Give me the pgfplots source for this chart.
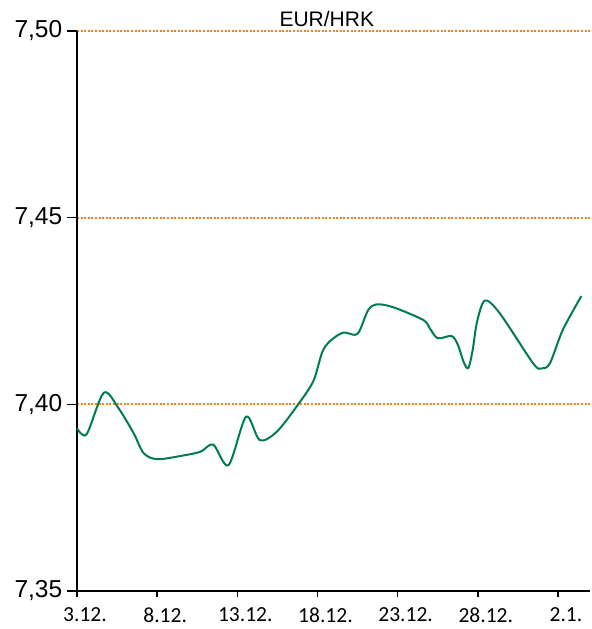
\documentclass[border=0pt]{standalone}
\usepackage{pgfplots}
\pgfplotsset{compat=1.18}
\usepackage{fontspec}
\setmainfont{Liberation Sans}
\newfontfamily\carlito{Carlito}
\definecolor{hrkgreen}{RGB}{0,125,78}
\definecolor{gridorange}{RGB}{250,125,30}
\begin{document}
\begin{tikzpicture}
\useasboundingbox (-77bp,-38bp) rectangle (515bp,591bp);
\begin{axis}[
  scale only axis,
  width=513bp, height=560bp,
  xmin=0, xmax=32,
  ymin=7.35, ymax=7.50,
  axis x line=bottom, axis y line=left,
  axis line style={-, line width=1.5bp, black},
  xtick={0,5,10,15,20,25,30},
  xticklabels={3.12.,8.12.,13.12.,18.12.,23.12.,28.12.,2.1.},
  ytick={7.35,7.40,7.45,7.50},
  yticklabels={{7,35},{7,40},{7,45},{7,50}},
  tick align=outside,
  xtick style={black, line width=1.5bp, /pgfplots/major tick length=6bp},
  ytick style={black, line width=1.5bp, /pgfplots/major tick length=10bp},
  xticklabel style={font=\carlito\fontsize{21.5bp}{24bp}\selectfont, xshift=8bp, yshift=-9bp},
  yticklabel style={font=\fontsize{24.5bp}{28bp}\selectfont, xshift=-7bp},
  /pgf/number format/assume math mode=true,
  ymajorgrids,
  grid style={gridorange, line width=2bp, dash pattern=on 2bp off 1.6bp},
  clip=false,
]
\addplot[hrkgreen, line width=2bp, smooth, tension=0.5] coordinates {
(0,7.3936) (0.6,7.3920) (1.67,7.4031) (2.6,7.3989) (3.54,7.3922) (4.16,7.3869)
(5,7.3853) (6.5,7.3862) (7.7,7.3873) (8.5,7.3892) (9.45,7.3837) (10.55,7.3967)
(11.4,7.3904) (12.47,7.3927) (13.85,7.4003) (14.75,7.4063) (15.3,7.4140)
(15.8,7.4170) (16.6,7.4192) (17.34,7.4186) (17.65,7.4199) (18.17,7.4253)
(18.7,7.4268) (19.73,7.4260) (21.6,7.4226) (22.0,7.4204) (22.5,7.4177)
(23.36,7.4183) (23.75,7.4160) (24.15,7.4110) (24.42,7.4098) (24.68,7.4145)
(24.95,7.4220) (25.44,7.4278) (26.37,7.4244)
(28.45,7.4110) (28.97,7.4096) (29.5,7.4110) (30.3,7.4199) (31.46,7.4290)
};
\node[anchor=base, font=\fontsize{21bp}{24bp}\selectfont, inner sep=0pt] at ([yshift=4bp]rel axis cs:0.487,1) {EUR/HRK};
\end{axis}
\end{tikzpicture}
\end{document}
